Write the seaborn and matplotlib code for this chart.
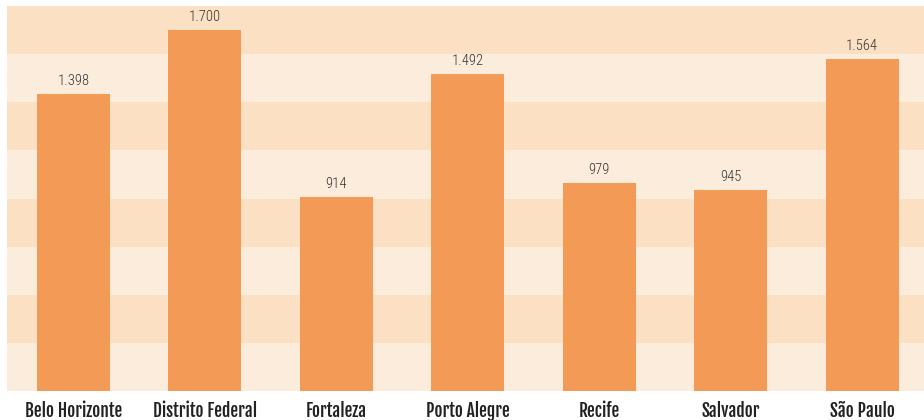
import numpy as np
import pandas as pd
import seaborn as sns
import matplotlib.pyplot as plt

cidades = ['Belo Horizonte', 'Distrito Federal', 'Fortaleza', 'Porto Alegre',
           'Recife', 'Salvador', 'São Paulo']
valores = [1398, 1700, 914, 1492, 979, 945, 1564]

cor_barra = '#F39A56'
cor_escura = '#FBE0C4'
cor_clara = '#FCECDC'

sns.set_theme(style='white')
plt.rcParams['font.family'] = ['Roboto Condensed', 'DejaVu Sans']

df = pd.DataFrame({'cidade': cidades, 'valor': valores})

fig = plt.figure(figsize=(9.24, 4.2), dpi=100)
ax = fig.add_axes([7 / 924, 29 / 420, 917 / 924, 385 / 420])

# faixas horizontais alternadas no fundo
ytop = 1812
passo = ytop / 8
for i in range(8):
    cor = cor_clara if i % 2 == 0 else cor_escura
    ax.axhspan(i * passo, (i + 1) * passo, color=cor, lw=0, zorder=0)

sns.barplot(data=df, x='cidade', y='valor', color=cor_barra, saturation=1,
            width=0.555, linewidth=0, ax=ax, zorder=2)

for i, v in enumerate(valores):
    txt = f'{v:,}'.replace(',', '.')
    ax.text(i, v + 28, txt, ha='center', va='bottom', fontsize=10.5,
            color='#333333', family=['Roboto Condensed', 'DejaVu Sans'],
            fontweight='light', zorder=3)

ax.set_ylim(0, ytop)
ax.set_xlim(-0.506, 6.47)
ax.set_xlabel('')
ax.set_ylabel('')
ax.set_yticks([])
ax.tick_params(axis='x', length=0, pad=7)
for lab in ax.get_xticklabels():
    lab.set_fontfamily(['Fjalla One', 'DejaVu Sans'])
    lab.set_fontsize(12.5)
    lab.set_color('#222222')
for s in ax.spines.values():
    s.set_visible(False)

plt.savefig('out.png', dpi=100)
